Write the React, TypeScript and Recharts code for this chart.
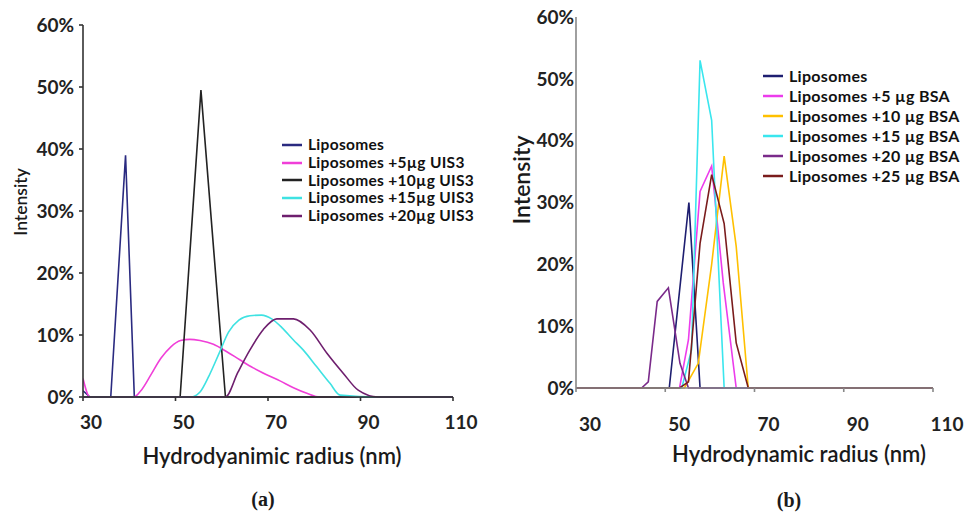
import React from "react";
import { LineChart, Line, XAxis, YAxis, Legend } from "recharts";

// x ticks / y ticks shared by both panels
const X_TICKS = [30, 50, 70, 90, 110];
const Y_TICKS = [0, 10, 20, 30, 40, 50, 60];

// panel (a): UIS3
const lipoAX = [30, 31.5, 36.0, 39.2, 41.1, 110];
const lipoAY = [1, 0, 0, 39, 0, 0];
const uis5X = [30, 31.5, 41.0, 42.5, 44.7, 46.8, 49.0, 51.1, 53.1, 55.3, 58.2, 61.1, 63.9, 66.8, 69.7, 72.6, 75.5, 78.4, 81.2, 110];
const uis5Y = [3, 0, 0, 1.0, 3.6, 6.2, 8.1, 9.1, 9.3, 9.1, 8.5, 7.3, 6.0, 4.7, 3.6, 2.6, 1.5, 0.6, 0, 0];
const uis10X = [30, 51.0, 55.5, 60.8, 110];
const uis10Y = [0, 0, 49.5, 0, 0];
const uis15X = [30, 53.3, 55.3, 57.3, 59.4, 61.5, 63.7, 66.1, 68.6, 70.8, 73.0, 75.5, 77.6, 80.5, 83.4, 85.6, 93.8, 110];
const uis15Y = [0, 0, 0.8, 3.5, 7.0, 10.5, 12.4, 13.1, 13.2, 12.6, 11.2, 9.2, 7.6, 4.9, 2.2, 0.3, 0, 0];
const uis20X = [30, 60.8, 63.5, 66.1, 69.0, 71.9, 75.5, 79.1, 82.7, 86.3, 89.5, 93.8, 110];
const uis20Y = [0, 0, 4.0, 7.6, 10.9, 12.6, 12.6, 10.8, 7.1, 3.8, 1.1, 0, 0];

// panel (b): BSA
const lipoBX = [30, 50.9, 55.3, 57.8, 110];
const lipoBY = [0, 0, 30, 0, 0];
const bsa5X = [30, 53.2, 55.2, 57.8, 60.4, 63.0, 65.9, 110];
const bsa5Y = [0, 0, 7.8, 31.8, 35.9, 17, 0, 0];
const bsa10X = [30, 54.3, 57.4, 60.4, 63.2, 65.9, 68.6, 110];
const bsa10Y = [0, 0, 4, 20, 37.5, 22.9, 0, 0];
const bsa15X = [30, 53.7, 55.9, 57.8, 60.4, 63.2, 110];
const bsa15Y = [0, 0, 6.2, 53, 43.3, 0, 0];
const bsa20X = [30, 44.7, 46.2, 48.2, 50.7, 53.3, 55.2, 110];
const bsa20Y = [0, 0, 1, 14, 16.2, 4, 0, 0];
const bsa25X = [30, 53.2, 55.2, 57.8, 60.4, 63.2, 65.9, 68.6, 110];
const bsa25Y = [0, 0, 1, 23.4, 34.5, 26.6, 7.3, 0, 0];

const pts = (xs: number[], ys: number[]) => xs.map((x, i) => ({ x, y: ys[i] }));

const seriesA = [
  { name: "Liposomes", color: "#2a2a80", data: pts(lipoAX, lipoAY), type: "linear" },
  { name: "Liposomes +5µg UIS3", color: "#f03fd8", data: pts(uis5X, uis5Y), type: "monotone" },
  { name: "Liposomes +10µg UIS3", color: "#222222", data: pts(uis10X, uis10Y), type: "linear" },
  { name: "Liposomes +15µg UIS3", color: "#3fe2e2", data: pts(uis15X, uis15Y), type: "monotone" },
  { name: "Liposomes +20µg UIS3", color: "#6e1f6e", data: pts(uis20X, uis20Y), type: "monotone" },
];

const seriesB = [
  { name: "Liposomes", color: "#1e1e70", data: pts(lipoBX, lipoBY), type: "linear" },
  { name: "Liposomes +5 µg BSA", color: "#ec3cec", data: pts(bsa5X, bsa5Y), type: "linear" },
  { name: "Liposomes +10 µg BSA", color: "#ffc000", data: pts(bsa10X, bsa10Y), type: "linear" },
  { name: "Liposomes +15 µg BSA", color: "#3ae6ee", data: pts(bsa15X, bsa15Y), type: "linear" },
  { name: "Liposomes +20 µg BSA", color: "#7a2a8a", data: pts(bsa20X, bsa20Y), type: "linear" },
  { name: "Liposomes +25 µg BSA", color: "#7a1c1c", data: pts(bsa25X, bsa25Y), type: "linear" },
];

const FONT = "Lato, 'Open Sans', sans-serif";

const XTick = ({ x, y, payload, dx, dy }: any) => (
  <text x={x + dx} y={y + dy} textAnchor="middle" fontFamily={FONT} fontWeight={700} fontSize={19} fill="#222">
    {payload.value}
  </text>
);

// legend rows follow series order (recharts would sort them by name)
const makeLegend = (series: any[], rowH: number, fontSize: number) => () => (
  <div style={{ fontFamily: FONT, fontWeight: 700, fontSize, letterSpacing: 0.3, color: "#111" }}>
    {series.map((s) => (
      <div key={s.name} style={{ display: "flex", alignItems: "center", height: rowH, lineHeight: `${rowH}px` }}>
        <svg width={26} height={6}>
          <line x1={0} y1={3} x2={20} y2={3} stroke={s.color} strokeWidth={2.5} />
        </svg>
        <span>{s.name}</span>
      </div>
    ))}
  </div>
);

type PanelProps = {
  left: number;
  width: number;
  margin: { top: number; right: number; bottom: number; left: number };
  series: any[];
  axisColor: string;
  yTickSize: number;
  yTickMargin: number;
  xTickDx: number;
  xTickDy: number;
  legendPos: { left: number; top: number };
  legendRow: number;
  legendFont: number;
};

function Panel(p: PanelProps) {
  return (
    <div style={{ position: "absolute", left: p.left, top: 0 }}>
      <LineChart width={p.width} height={512} margin={p.margin}>
        <XAxis
          dataKey="x"
          type="number"
          domain={[30, 110]}
          ticks={X_TICKS}
          allowDataOverflow
          stroke={p.axisColor}
          strokeWidth={1.6}
          tickSize={4}
          tickLine={{ stroke: p.axisColor }}
          height={30}
          tick={<XTick dx={p.xTickDx} dy={p.xTickDy} />}
        />
        <YAxis
          type="number"
          domain={[0, 60]}
          ticks={Y_TICKS}
          width={60}
          stroke={p.axisColor}
          strokeWidth={1.6}
          tickSize={p.yTickSize}
          tickMargin={p.yTickMargin}
          tickFormatter={(v: number) => `${v}%`}
          tick={{ fontFamily: FONT, fontWeight: 700, fontSize: 19, fill: "#222" }}
        />
        {p.series.map((s) => (
          <Line
            key={s.name}
            data={s.data}
            dataKey="y"
            name={s.name}
            type={s.type}
            stroke={s.color}
            strokeWidth={1.6}
            dot={false}
            isAnimationActive={false}
          />
        ))}
        <Legend
          layout="vertical"
          align="center"
          verticalAlign="middle"
          wrapperStyle={{ left: p.legendPos.left, top: p.legendPos.top, width: 220 }}
          content={makeLegend(p.series, p.legendRow, p.legendFont)}
        />
      </LineChart>
    </div>
  );
}

const textStyle: React.CSSProperties = {
  position: "absolute",
  fontFamily: FONT,
  fontWeight: 600,
  color: "#1a1a1a",
  whiteSpace: "nowrap",
  transform: "translate(-50%, -50%)",
};

export default function App() {
  return (
    <div style={{ position: "fixed", left: 0, top: 0, width: 968, height: 512, background: "#fff" }}>
      <Panel
        left={0}
        width={480}
        margin={{ top: 25, right: 27, bottom: 85, left: 23 }}
        series={seriesA}
        axisColor="#333"
        yTickSize={4}
        yTickMargin={5}
        xTickDx={8}
        xTickDy={26}
        legendPos={{ left: 282, top: 136 }}
        legendRow={17.8}
        legendFont={15.5}
      />
      <Panel
        left={490}
        width={478}
        margin={{ top: 17, right: 35, bottom: 94, left: 26 }}
        series={seriesB}
        axisColor="#888"
        yTickSize={0}
        yTickMargin={2}
        xTickDx={14}
        xTickDy={37}
        legendPos={{ left: 273, top: 66 }}
        legendRow={20}
        legendFont={16}
      />
      <div style={{ ...textStyle, left: 272, top: 455, fontSize: 22 }}>Hydrodyanimic radius (nm)</div>
      <div style={{ ...textStyle, left: 799, top: 453, fontSize: 22 }}>Hydrodynamic radius (nm)</div>
      <div style={{ ...textStyle, left: 20, top: 202, fontSize: 17.5, transform: "translate(-50%, -50%) rotate(-90deg)" }}>Intensity</div>
      <div style={{ ...textStyle, left: 521, top: 180, fontSize: 23, transform: "translate(-50%, -50%) rotate(-90deg)" }}>Intensity</div>
      <div style={{ ...textStyle, left: 263, top: 499, fontSize: 20, fontFamily: "'Liberation Serif', serif", fontWeight: 700 }}>(a)</div>
      <div style={{ ...textStyle, left: 789, top: 500, fontSize: 20, fontFamily: "'Liberation Serif', serif", fontWeight: 700 }}>(b)</div>
    </div>
  );
}
